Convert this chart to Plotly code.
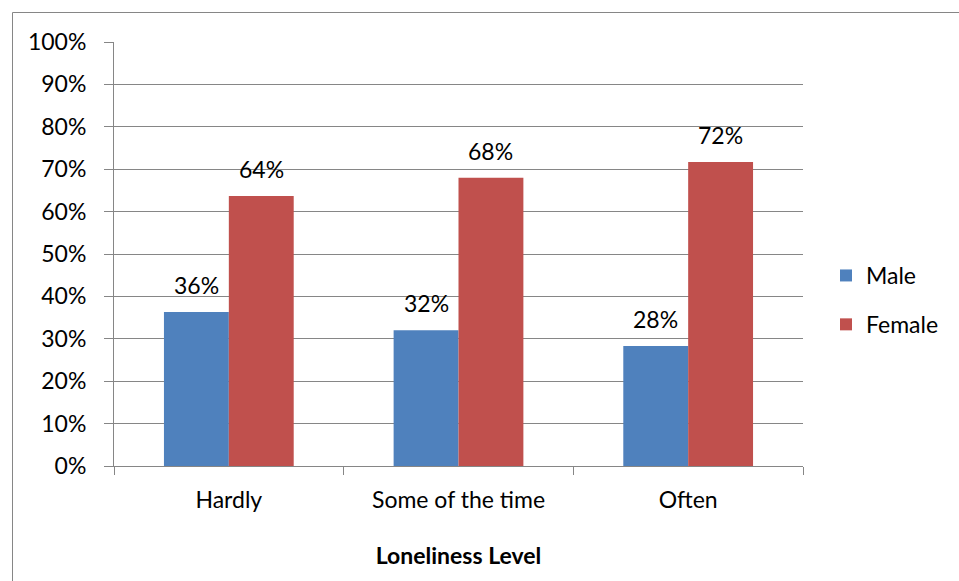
import plotly.graph_objects as go

# Share of respondents by loneliness level and gender
categories = ["Hardly", "Some of the time", "Often"]
male = [0.363, 0.320, 0.283]
female = [0.637, 0.680, 0.717]
y_ticks = [i / 10 for i in range(11)]
y_tick_labels = [f"{i * 10}%" for i in range(11)]

BLUE = "#4F81BD"
RED = "#C0504D"
GRID = "#868686"
FONT = "Lato"
FS = 23

W, H = 959, 581
L, R, T, B = 114, 156, 42, 115
plot_w = W - L - R
plot_h = H - T - B

fig = go.Figure()
fig.add_trace(go.Bar(x=categories, y=male, name="Male", marker_color=BLUE,
                     marker_line_width=0, legendgroup="m"))
fig.add_trace(go.Bar(x=categories, y=female, name="Female", marker_color=RED,
                     marker_line_width=0, legendgroup="f"))

bargap = 0.435
bar_px = plot_w / len(categories) * (1 - bargap) / 2

annotations = []
for series, sign in ((male, -1), (female, 1)):
    for cat, v in zip(categories, series):
        annotations.append(dict(
            x=cat, y=v, xref="x", yref="y", text=f"{v:.0%}", showarrow=False,
            xshift=sign * bar_px / 2, yshift=27, yanchor="middle",
            font=dict(family=FONT, size=FS, color="#000000"),
        ))

# Outer chart frame: only its left and top edges sit inside the canvas
fx0 = (12.5 - L) / plot_w
fy1 = 1 + (T - 12.5) / plot_h
fx1 = (W + 10 - L) / plot_w
fy0 = -(H + 10 - T - plot_h) / plot_h
frame = dict(color=GRID, width=1)
shapes = [
    dict(type="line", xref="paper", yref="paper", x0=fx0, x1=fx0,
         y0=fy0, y1=fy1, line=frame, layer="below"),
    dict(type="line", xref="paper", yref="paper", x0=fx0, x1=fx1,
         y0=fy1, y1=fy1, line=frame, layer="below"),
]

fig.update_layout(
    width=W, height=H,
    margin=dict(l=L, r=R, t=T, b=B, pad=0),
    paper_bgcolor="white", plot_bgcolor="white",
    barmode="group", bargap=bargap, bargroupgap=0,
    font=dict(family=FONT, size=FS, color="#000000"),
    showlegend=True,
    legend=dict(x=(826 - L) / plot_w, y=(466 - 300) / plot_h,
                xanchor="left", yanchor="middle",
                traceorder="grouped", tracegroupgap=16,
                font=dict(family=FONT, size=FS, color="#000000"),
                bgcolor="rgba(0,0,0,0)"),
    annotations=annotations,
    shapes=shapes,
    xaxis=dict(
        showline=True, linecolor=GRID, linewidth=1,
        ticks="outside", ticklen=8, tickcolor=GRID, tickson="boundaries",
        tickfont=dict(family=FONT, size=FS), ticklabelstandoff=13,
        title=dict(text="<b>Loneliness Level</b>", standoff=36,
                   font=dict(family=FONT, size=FS)),
        showgrid=False,
    ),
    yaxis=dict(
        range=[0, 1], tickvals=y_ticks, ticktext=y_tick_labels,
        showline=True, linecolor=GRID, linewidth=1,
        ticks="outside", ticklen=9, tickcolor=GRID,
        showgrid=True, gridcolor=GRID, gridwidth=1,
        tickfont=dict(family=FONT, size=FS), ticklabelstandoff=13,
        zeroline=False,
    ),
)

fig.write_html("out.html")
